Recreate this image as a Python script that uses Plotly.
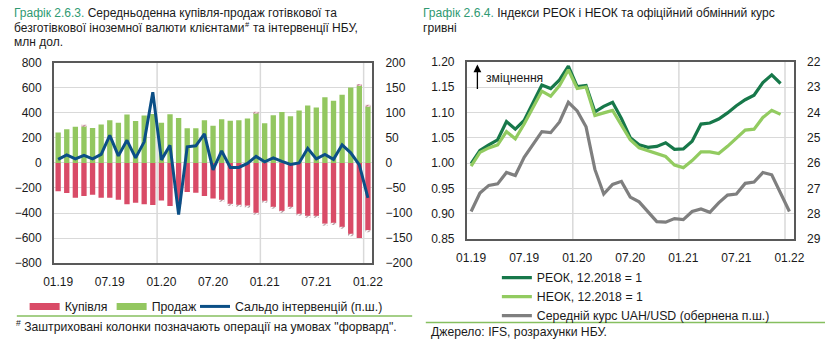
import plotly.graph_objects as go

# ---------------- data ----------------
years = ["19", "20", "21", "22"]
months = [f"{m:02d}.{y}" for y in years for m in range(1, 13)][:37]   # 01.19 .. 01.22
tick_labels = ["01.19", "07.19", "01.20", "07.20", "01.21", "07.21", "01.22"]

# Average daily FX sales by clients (USD m), cash + non-cash; forward part separately
sell_total = [243, 268, 289, 302, 279, 307, 340, 320, 386, 335, 378, 390, 320, 388, 358, 276,
              276, 340, 297, 348, 337, 340, 355, 409, 317, 381, 406, 373, 419, 458, 442, 524,
              496, 544, 601, 629, 460]
sell_fwd = [0, 0, 0, 8, 0, 0, 0, 0, 0, 0, 0, 0, 0, 0, 0, 0, 0, 0, 0, 0, 0, 0, 0, 10, 0, 0, 0,
            0, 0, 0, 0, 0, 0, 0, 0, 16, 10]
# Average daily FX purchases by clients (USD m)
buy_total = [226, 241, 279, 264, 254, 279, 279, 295, 331, 318, 331, 336, 300, 344, 330, 233,
             238, 264, 285, 310, 344, 351, 354, 413, 318, 362, 395, 367, 421, 438, 438, 495,
             495, 523, 585, 600, 554]
buy_fwd = [0, 0, 0, 0, 0, 0, 0, 0, 0, 0, 0, 0, 0, 0, 0, 0, 0, 0, 0, 10, 14, 12, 12, 12, 14, 10,
           12, 12, 12, 12, 14, 10, 12, 12, 14, 0, 16]
# NBU net interventions (USD m, right axis)
interv = [7, 16, 8, 15, 8, 17, 55, 14, 45, 10, 42, 141, 6, 35, -103, 32, 34, 58, -14, 24, -9,
          -9, -1, 13, 2, 10, 3, -3, 0, 29, 8, 17, 7, 36, 20, -4, -70]

# REER / NEER indices, 12.2018 = 1 (to 12.21)
reer = [0.999, 1.025, 1.036, 1.046, 1.082, 1.067, 1.084, 1.118, 1.154, 1.147, 1.164, 1.191,
        1.151, 1.153, 1.101, 1.112, 1.120, 1.088, 1.050, 1.036, 1.031, 1.033, 1.040, 1.027,
        1.028, 1.043, 1.077, 1.079, 1.087, 1.099, 1.113, 1.125, 1.134, 1.159, 1.174, 1.157]
neer = [0.994, 1.021, 1.030, 1.036, 1.062, 1.048, 1.077, 1.109, 1.142, 1.132, 1.153, 1.184,
        1.147, 1.150, 1.094, 1.099, 1.104, 1.075, 1.046, 1.030, 1.024, 1.019, 1.013, 0.996,
        0.991, 1.005, 1.022, 1.022, 1.019, 1.033, 1.049, 1.065, 1.067, 1.090, 1.104, 1.096]
# Average UAH/USD rate (inverted right axis)
uah_usd = [27.91, 27.18, 26.88, 26.82, 26.37, 26.49, 25.77, 25.26, 24.76, 24.80, 24.38, 23.60,
           23.94, 24.57, 26.25, 27.22, 26.84, 26.72, 27.34, 27.53, 27.91, 28.31, 28.33, 28.19,
           28.23, 27.91, 27.81, 27.94, 27.57, 27.26, 27.22, 26.80, 26.75, 26.37, 26.46, 27.22,
           27.91]

# ---------------- styling ----------------
W, H = 836, 344
FONT = "Liberation Sans, Arial, sans-serif"
RED = "#d94b67"
GREEN = "#93c760"
BLUE = "#0b4f86"
DKGREEN = "#17784a"
LTGREEN = "#92cb60"
GREY = "#7f7f7f"
TITLE_GREEN = "#2f9a72"
AXIS = "#595959"
GRID = "#d9d9d9"
TXT = "#1a1a1a"


def px(x):
    return x / W


def py(y):
    return 1 - y / H


idx = list(range(len(months)))
tickvals = [months.index(t) for t in tick_labels]
year_bounds = [months.index(t) - 0.5 for t in ("01.20", "01.21", "01.22")]

sell_spot = [t - f for t, f in zip(sell_total, sell_fwd)]
buy_spot = [-(t - f) for t, f in zip(buy_total, buy_fwd)]
buy_fwd_neg = [-f for f in buy_fwd]

fig = go.Figure()

BW = 0.62
fig.add_bar(x=idx, y=sell_spot, width=BW, marker=dict(color=GREEN, line_width=0),
            xaxis="x", yaxis="y", showlegend=False)
fig.add_bar(x=idx, y=sell_fwd, width=BW,
            marker=dict(color=GREEN, line_width=0,
                        pattern=dict(shape="/", fgcolor="#7a2a40", bgcolor="#f3d5dc", size=3, solidity=0.4)),
            xaxis="x", yaxis="y", showlegend=False)
fig.add_bar(x=idx, y=buy_spot, width=BW, marker=dict(color=RED, line_width=0),
            xaxis="x", yaxis="y", showlegend=False)
fig.add_bar(x=idx, y=buy_fwd_neg, width=BW,
            marker=dict(color=RED, line_width=0,
                        pattern=dict(shape="/", fgcolor="#5a1a2a", bgcolor="#ffffff", size=3, solidity=0.4)),
            xaxis="x", yaxis="y", showlegend=False)
fig.add_scatter(x=idx, y=interv, mode="lines", line=dict(color=BLUE, width=3),
                xaxis="x", yaxis="y2", showlegend=False)

# legend entries for the left panel (bars shown as thick swatches)
for name, color, w, lg in (("Купівля", RED, 7, "legend"), ("Продаж", GREEN, 7, "legend"),
                           ("Сальдо інтервенцій (п.ш.)", BLUE, 3, "legend3")):
    fig.add_scatter(x=[None], y=[None], mode="lines", line=dict(color=color, width=w),
                    name=name, xaxis="x", yaxis="y", legend=lg)

# right panel
fig.add_scatter(x=idx[:len(reer)], y=reer, mode="lines", line=dict(color=DKGREEN, width=3.2),
                name="РЕОК, 12.2018 = 1", xaxis="x2", yaxis="y3", legend="legend2")
fig.add_scatter(x=idx[:len(neer)], y=neer, mode="lines", line=dict(color=LTGREEN, width=3.2),
                name="НЕОК, 12.2018 = 1", xaxis="x2", yaxis="y3", legend="legend2")
fig.add_scatter(x=idx, y=uah_usd, mode="lines", line=dict(color=GREY, width=3.2),
                name="Середній курс UAH/USD (обернена п.ш.)", xaxis="x2", yaxis="y4", legend="legend2")

tickfont = dict(family=FONT, size=12, color=TXT)
xcommon = dict(range=[-0.5, len(months) - 0.5], tickvals=tickvals, ticktext=tick_labels,
               showgrid=False, zeroline=False, showline=True, linecolor=AXIS, linewidth=1.5,
               mirror=True, tickfont=tickfont, ticks="", ticklabelstandoff=7)
ycommon = dict(showgrid=True, gridcolor=GRID, gridwidth=1, zeroline=False, showline=True,
               linecolor=AXIS, linewidth=1.5, tickfont=tickfont, ticks="", ticklabelstandoff=8)

L_DOM = [px(44), px(371)]
L_Y = [py(267), py(58)]
R_DOM = [px(468), px(804)]
R_Y = [py(242), py(57)]

legend_common = dict(font=dict(family=FONT, size=12.3), itemwidth=30, bgcolor="rgba(0,0,0,0)",
                     tracegroupgap=0, xanchor="left", yanchor="top")

fig.update_layout(
    width=W, height=H, margin=dict(l=0, r=0, t=0, b=0),
    paper_bgcolor="white", plot_bgcolor="white",
    barmode="relative", bargap=0.35,
    font=dict(family=FONT, size=12, color=TXT),
    xaxis=dict(domain=L_DOM, anchor="y", **xcommon),
    yaxis=dict(domain=L_Y, anchor="x", range=[-800, 800], dtick=200, **ycommon),
    yaxis2=dict(overlaying="y", side="right", anchor="x", range=[-200, 200], dtick=50,
                showgrid=False, zeroline=False, showline=True, linecolor=AXIS, linewidth=1.5,
                tickfont=tickfont, ticks="", ticklabelstandoff=9),
    xaxis2=dict(domain=R_DOM, anchor="y3", **xcommon),
    yaxis3=dict(domain=R_Y, anchor="x2", range=[0.85, 1.20], dtick=0.05, tickformat=".2f", **ycommon),
    yaxis4=dict(overlaying="y3", side="right", anchor="x2", range=[29, 22], dtick=1,
                showgrid=False, zeroline=False, showline=True, linecolor=AXIS, linewidth=1.5,
                tickfont=tickfont, ticks="", ticklabelstandoff=9),
    legend=dict(orientation="h", x=px(14), y=py(297), entrywidth=42, entrywidthmode="pixels",
                **legend_common),
    legend3=dict(orientation="h", x=px(189), y=py(297), **legend_common),
    legend2=dict(orientation="v", x=px(499), y=py(267), **legend_common),
)

# year-boundary gridlines
for xa, ya in (("x", "y"), ("x2", "y3")):
    for b in year_bounds:
        fig.add_shape(type="line", xref=xa, yref=f"{ya} domain", x0=b, x1=b, y0=0, y1=1,
                      line=dict(color=GRID, width=1.5), layer="below")

# separators under the legends
fig.add_shape(type="line", xref="paper", yref="paper", x0=px(6), x1=px(412), y0=py(322), y1=py(322),
              line=dict(color="#86bf5f", width=1.5))
fig.add_shape(type="line", xref="paper", yref="paper", x0=px(426), x1=px(836), y0=py(329), y1=py(329),
              line=dict(color="#86bf5f", width=1.5))


def text_line(x, y, text, size=12.0, xanchor="left"):
    return dict(x=px(x), y=py(y), xref="paper", yref="paper", xanchor=xanchor, yanchor="middle",
                align="left", showarrow=False, font=dict(family=FONT, size=size, color=TXT), text=text)


ann = [
    text_line(1, 6.5, f"<span style='color:{TITLE_GREEN}'>Графік 2.6.3.</span> Середньоденна купівля-продаж готівкової та"),
    text_line(1, 21.5, "безготівкової іноземної валюти клієнтами"),
    text_line(242.5, 18, "#", 7.5, xanchor="center"),
    text_line(246.5, 21.5, "та інтервенції НБУ,"),
    text_line(1, 36.5, "млн дол."),
    text_line(421, 6.5, f"<span style='color:{TITLE_GREEN}'>Графік 2.6.4.</span> Індекси РЕОК і НЕОК та офіційний обмінний курс", 12.1),
    text_line(421, 21.5, "гривні", 12.1),
    text_line(3, 333, "<sup>#</sup> Заштриховані колонки позначають операції на умовах \"форвард\".", 12.2),
    text_line(429, 339, "Джерело: IFS, розрахунки НБУ.", 12.2),
    text_line(486, 74, "зміцнення", 12.2),
    # strengthening arrow
    dict(x=px(479), y=py(60), xref="paper", yref="paper", ax=0, ay=26, axref="pixel", ayref="pixel",
         text="", showarrow=True, arrowhead=2, arrowsize=1.2, arrowwidth=1.3, arrowcolor="#000000"),
]
fig.update_layout(annotations=ann)

fig.write_html("out.html")
